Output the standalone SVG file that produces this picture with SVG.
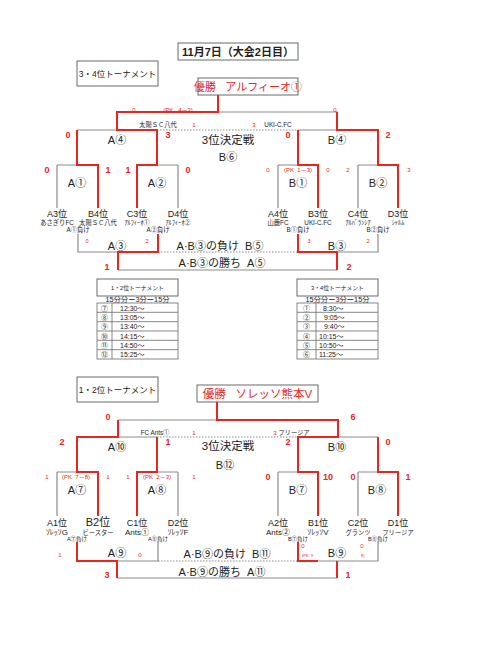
<svg xmlns="http://www.w3.org/2000/svg" width="480" height="650" viewBox="0 0 480 650">
<style>
text{font-family:"Liberation Sans","Noto Sans CJK JP",sans-serif;fill:#222;text-anchor:middle}
.p{white-space:pre}
.r{fill:#e8251f}
.g{stroke:#8c8c8c;stroke-width:1.2;fill:none}
.rl{stroke:#e8251f;stroke-width:2;fill:none}
.d{stroke:#8c8c8c;stroke-width:1;stroke-dasharray:1.5 1.5;fill:none}
.box{fill:#fff;stroke:#6a6a6a;stroke-width:1}
.tb{fill:none;stroke:#6a6a6a;stroke-width:0.8}
.n{font-size:11px}
.c{font-size:11.5px}
.t{font-size:9px}
.sc{font-size:9px;font-weight:bold}
.s{font-size:6px}
.xs{font-size:5.5px}
.nm{font-size:6.3px}
.nm2{font-size:8px}
.tt{font-size:7px;text-anchor:start}
.tn{font-size:7px}
</style>
<rect x="0" y="0" width="480" height="650" fill="#fff"/>

<g id="title">
<rect class="box" x="178" y="43" width="120" height="17"/>
<text x="238" y="56" style="font-size:11px;font-weight:bold">11月7日（大会2日目）</text>
</g>

<!-- ===== 3-4 tournament ===== -->
<g id="label34">
<rect class="box" x="77" y="61" width="81" height="25"/>
<text x="117.5" y="77" style="font-size:8.5px">3・4位トーナメント</text>
</g>
<g id="champ34">
<rect class="box" x="198" y="78" width="100" height="17"/>
<text class="r p" x="248" y="91" style="font-size:11px">優勝   アルフィーオ①</text>
</g>

<g id="connectors34">
<path class="g" d="M218 112H338M77 130H117M298 130H337M57 165H77M57 165V208M157 165H178M178 165V208M278 165H298M278 165V208M358 165H378M358 165V208M78 234V252H118M378 234V252H337M118 270H337"/>
<path class="d" d="M157 130H298M158 252H298"/>
<path class="rl" d="M137 208V165H157V130H117V112H218V95"/>
<path class="rl" d="M98 208V165H77V130"/>
<path class="rl" d="M318 208V165H298V130"/>
<path class="rl" d="M398 208V165H378V130H337V112"/>
<path class="rl" d="M158 234V252H118V270"/>
<path class="rl" d="M298 234V252H337V270"/>
</g>

<g id="final34">
<text class="r s" x="134" y="111.5">0</text>
<text class="r s p" x="178" y="111.5">(PK   4－3)</text>
<text class="r s" x="335" y="111.5">0</text>
</g>
<g id="third34">
<text class="nm" x="158" y="127">太陽ＳＣ八代</text>
<text class="r s" x="194" y="127">1</text>
<text class="r s" x="254" y="127">3</text>
<text class="nm" x="278" y="127">UKI-C.FC</text>
<text class="c" x="228" y="144">3位決定戦</text>
<text class="n" x="228" y="161">B⑥</text>
</g>
<g id="A4">
<text class="r sc" x="68" y="138">0</text>
<text class="r sc" x="168" y="138">3</text>
<text class="n" x="117" y="144">A④</text>
</g>
<g id="B4">
<text class="r sc" x="288" y="138">0</text>
<text class="r sc" x="388" y="138">2</text>
<text class="n" x="337" y="144">B④</text>
</g>
<g id="A1">
<text class="r sc" x="47" y="173">0</text>
<text class="r sc" x="108" y="173">1</text>
<text class="n" x="77" y="187">A①</text>
</g>
<g id="A2">
<text class="r sc" x="128" y="173">1</text>
<text class="r sc" x="188" y="173">0</text>
<text class="n" x="157" y="187">A②</text>
</g>
<g id="B1">
<text class="r s" x="268" y="172">0</text>
<text class="r s p" x="298" y="172">(PK  1－3)</text>
<text class="r s" x="328" y="172">0</text>
<text class="n" x="298" y="187">B①</text>
</g>
<g id="B2">
<text class="r s" x="348" y="172">2</text>
<text class="r s" x="409" y="172">3</text>
<text class="n" x="378" y="187">B②</text>
</g>
<g id="teams34">
<text class="t" x="57" y="217">A3位</text>
<text class="t" x="98" y="217">B4位</text>
<text class="t" x="137" y="217">C3位</text>
<text class="t" x="178" y="217">D4位</text>
<text class="t" x="278" y="217">A4位</text>
<text class="t" x="318" y="217">B3位</text>
<text class="t" x="358" y="217">C4位</text>
<text class="t" x="398" y="217">D3位</text>
<text class="nm" x="57" y="225">あさぎりFC</text>
<text class="nm" x="98" y="225">太陽ＳＣ八代</text>
<text class="nm" x="137" y="225">ｱﾙﾌｨｰｵ①</text>
<text class="nm" x="178" y="225">ｱﾙﾌｨｰｵ②</text>
<text class="nm" x="278" y="225">山鹿FC</text>
<text class="nm" x="318" y="225">UKI-C.FC</text>
<text class="nm" x="358" y="225">ｱﾙﾊﾞﾗﾝｼｱ</text>
<text class="nm" x="398" y="225">ｼｬﾙﾑ</text>
<text class="nm" x="78" y="232">A①負け</text>
<text class="nm" x="158" y="232">A②負け</text>
<text class="nm" x="298" y="232">B①負け</text>
<text class="nm" x="378" y="232">B②負け</text>
</g>
<g id="A3">
<text class="r xs" x="87" y="243">0</text>
<text class="r xs" x="147" y="243">2</text>
<text class="n" x="117" y="250">A③</text>
<text class="r sc" x="107" y="270">1</text>
</g>
<g id="B3">
<text class="r xs" x="309" y="243">3</text>
<text class="r xs" x="368" y="243">2</text>
<text class="n" x="337" y="250">B③</text>
<text class="r sc" x="349" y="270">2</text>
</g>
<g id="B5">
<text class="n p" x="220" y="250">A·B③の負け  B⑤</text>
</g>
<g id="A5">
<text class="n p" x="222" y="267">A·B③の勝ち  A⑤</text>
</g>

<!-- ===== schedule tables ===== -->
<g id="table12">
<rect class="box" x="97" y="279" width="81" height="17"/>
<text x="137.5" y="290" style="font-size:5.8px">1・2位トーナメント</text>
<text x="137.5" y="302" style="font-size:7.3px">15分分ー3分ー15分</text>
<rect class="tb" x="97" y="303" width="81" height="56"/>
<path class="tb" d="M112 303V359M97 312.3H178M97 321.7H178M97 331H178M97 340.3H178M97 349.7H178"/>
<text class="tn" x="104.5" y="310.5">⑦</text><text class="tt" x="120" y="310.5">12:30～</text>
<text class="tn" x="104.5" y="319.8">⑧</text><text class="tt" x="120" y="319.8">13:05～</text>
<text class="tn" x="104.5" y="329.2">⑨</text><text class="tt" x="120" y="329.2">13:40～</text>
<text class="tn" x="104.5" y="338.5">⑩</text><text class="tt" x="120" y="338.5">14:15～</text>
<text class="tn" x="104.5" y="347.8">⑪</text><text class="tt" x="120" y="347.8">14:50～</text>
<text class="tn" x="104.5" y="357.2">⑫</text><text class="tt" x="120" y="357.2">15:25～</text>
</g>
<g id="table34">
<rect class="box" x="297" y="279" width="81" height="17"/>
<text x="337.5" y="290" style="font-size:5.8px">3・4位トーナメント</text>
<text x="337.5" y="302" style="font-size:7.3px">15分分ー3分ー15分</text>
<rect class="tb" x="297" y="303" width="81" height="56"/>
<path class="tb" d="M316 303V359M297 312.3H378M297 321.7H378M297 331H378M297 340.3H378M297 349.7H378"/>
<text class="tn" x="306.5" y="310.5">①</text><text class="tt" x="323" y="310.5">8:30～</text>
<text class="tn" x="306.5" y="319.8">②</text><text class="tt" x="324" y="319.8">9:05～</text>
<text class="tn" x="306.5" y="329.2">③</text><text class="tt" x="324" y="329.2">9:40～</text>
<text class="tn" x="306.5" y="338.5">④</text><text class="tt" x="319" y="338.5">10:15～</text>
<text class="tn" x="306.5" y="347.8">⑤</text><text class="tt" x="319" y="347.8">10:50～</text>
<text class="tn" x="306.5" y="357.2">⑥</text><text class="tt" x="319" y="357.2">11:25～</text>
</g>

<!-- ===== 1-2 tournament ===== -->
<g id="label12">
<rect class="box" x="77" y="377" width="81" height="25"/>
<text x="117.5" y="393" style="font-size:8.5px">1・2位トーナメント</text>
</g>
<g id="champ12">
<rect class="box" x="197" y="385" width="121" height="17"/>
<text class="r p" x="257.5" y="398" style="font-size:11.5px">優勝   ソレッソ熊本V</text>
</g>

<g id="connectors12">
<path class="g" d="M118 420H217M118 437H157M338 437H378M57 472H77M57 472V516M157 472H178M178 472V516M278 472H298M278 472V516M358 472H378M358 472V516M158 542V561H117M378 542V561H318M117 578H337"/>
<path class="d" d="M157 437H298M158 561H298"/>
<path class="rl" d="M318 516V472H298V437H338V420H217V402"/>
<path class="rl" d="M398 516V472H378V437"/>
<path class="rl" d="M98 516V472H77V437H118V420"/>
<path class="rl" d="M137 516V472H157V437"/>
<path class="rl" d="M77 542V561H117V578"/>
<path class="rl" d="M298 542V561H318M337 561V578"/>
</g>

<g id="final12">
<text class="r sc" x="108" y="420">0</text>
<text class="r sc" x="353" y="420">6</text>
</g>
<g id="third12">
<text class="nm" x="155" y="435">FC Ants①</text>
<text class="r s" x="194" y="435">1</text>
<text class="r s" x="275" y="435">3</text>
<text class="nm" x="294" y="435">フリージア</text>
<text class="c" x="228" y="450">3位決定戦</text>
<text class="n" x="225" y="469">B⑫</text>
</g>
<g id="A10">
<text class="r sc" x="62" y="445">2</text>
<text class="r sc" x="168" y="445">1</text>
<text class="n" x="117" y="451">A⑩</text>
</g>
<g id="B10">
<text class="r sc" x="288" y="445">2</text>
<text class="r sc" x="388" y="445">0</text>
<text class="n" x="337" y="451">B⑩</text>
</g>
<g id="A7">
<text class="r s" x="47" y="479">1</text>
<text class="r s p" x="76" y="479">(PK  7－8)</text>
<text class="r s" x="108" y="479">1</text>
<text class="n" x="77" y="494">A⑦</text>
</g>
<g id="A8">
<text class="r s" x="128" y="479">1</text>
<text class="r s p" x="157" y="479">(PK  2－3)</text>
<text class="r s" x="194" y="479">1</text>
<text class="n" x="157" y="494">A⑧</text>
</g>
<g id="B7">
<text class="r sc" x="268" y="480">0</text>
<text class="r sc" x="328" y="480">10</text>
<text class="n" x="298" y="494">B⑦</text>
</g>
<g id="B8">
<text class="r sc" x="353" y="480">0</text>
<text class="r sc" x="408" y="480">1</text>
<text class="n" x="377" y="494">B⑧</text>
</g>
<g id="teams12">
<text class="t" x="57" y="526">A1位</text>
<text x="98" y="526" style="font-size:11px">B2位</text>
<text class="t" x="137" y="526">C1位</text>
<text class="t" x="178" y="526">D2位</text>
<text class="t" x="278" y="526">A2位</text>
<text class="t" x="318" y="526">B1位</text>
<text class="t" x="358" y="526">C2位</text>
<text class="t" x="398" y="526">D1位</text>
<text class="nm2" x="57" y="534.5">ｿﾚｯｿG</text>
<text class="nm" x="98" y="535">ビースター</text>
<text class="nm2" x="137" y="534.5">Ants①</text>
<text class="nm2" x="178" y="534.5">ｿﾚｯｿF</text>
<text class="nm2" x="278" y="534.5">Ants②</text>
<text class="nm2" x="318" y="534.5">ｿﾚｯｿV</text>
<text class="nm" x="358" y="534.5">グランツ</text>
<text class="nm" x="398" y="534.5">フリージア</text>
<text class="xs" x="77" y="541">A⑦負け</text>
<text class="xs" x="158" y="541">A⑧負け</text>
<text class="xs" x="298" y="541">B⑦負け</text>
<text class="xs" x="378" y="541">B⑧負け</text>
</g>
<g id="A9">
<text class="r s" x="60" y="557">1</text>
<text class="r s" x="140" y="557">0</text>
<text class="n" x="117" y="557">A⑨</text>
<text class="r sc" x="107" y="578">3</text>
</g>
<g id="B9">
<text class="r s" x="303" y="548">0</text>
<text class="r p" x="302" y="557" style="font-size:4px;text-anchor:start">(PK  9</text>
<text class="r s" x="362" y="548">0</text>
<text class="r" x="361" y="557" style="font-size:4px;text-anchor:start">8)</text>
<text class="n" x="337" y="557">B⑨</text>
<text class="r sc" x="348" y="578">1</text>
</g>
<g id="B11">
<text class="n p" x="227" y="558">A·B⑨の負け  B⑪</text>
</g>
<g id="A11">
<text class="n p" x="222" y="576">A·B⑨の勝ち  A⑪</text>
</g>
</svg>
